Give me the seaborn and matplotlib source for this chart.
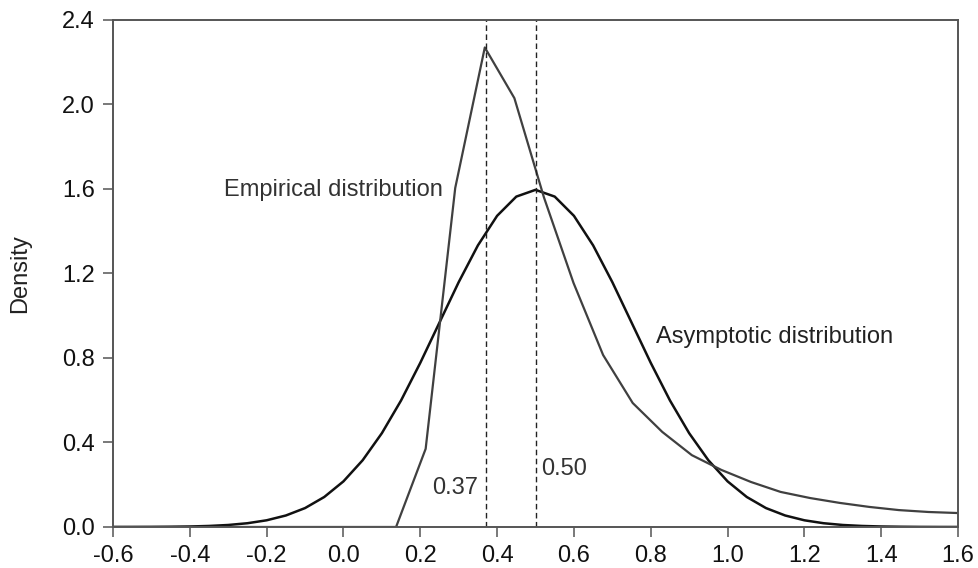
import numpy as np
import pandas as pd
import matplotlib
matplotlib.use("Agg")
import matplotlib.pyplot as plt
import seaborn as sns

# Empirical distribution
emp_x = [-0.60, 0.137, 0.214, 0.291, 0.368, 0.445, 0.522, 0.599, 0.676, 0.753, 0.830,
         0.907, 0.984, 1.061, 1.138, 1.215, 1.292, 1.369, 1.446, 1.523, 1.600]
emp_y = [0.0, 0.0, 0.37, 1.605, 2.27, 2.03, 1.56, 1.155, 0.814, 0.587, 0.45,
         0.34, 0.27, 0.213, 0.166, 0.137, 0.114, 0.095, 0.08, 0.071, 0.066]

# Asymptotic distribution
asy_x = [-0.60, -0.55, -0.50, -0.45, -0.40, -0.35, -0.30, -0.25, -0.20, -0.15, -0.10, -0.05,
         0.00, 0.05, 0.10, 0.15, 0.20, 0.25, 0.30, 0.35, 0.40, 0.45, 0.50,
         0.55, 0.60, 0.65, 0.70, 0.75, 0.80, 0.85, 0.90, 0.95, 1.00, 1.05,
         1.10, 1.15, 1.20, 1.25, 1.30, 1.35, 1.40, 1.45, 1.50, 1.55, 1.60]
asy_y = [0.0001, 0.0002, 0.0005, 0.0012, 0.0024, 0.0049, 0.0095, 0.0178, 0.0317, 0.0544, 0.0895, 0.142,
         0.216, 0.316, 0.444, 0.599, 0.777, 0.968, 1.159, 1.333, 1.473, 1.564, 1.596,
         1.564, 1.473, 1.333, 1.159, 0.968, 0.777, 0.599, 0.444, 0.316, 0.216, 0.142,
         0.0895, 0.0544, 0.0317, 0.0178, 0.0095, 0.0049, 0.0024, 0.0012, 0.0005, 0.0002, 0.0001]

markers_x = [0.37, 0.50]
marker_labels = ["0.37", "0.50"]

x_ticks = [-0.6, -0.4, -0.2, 0.0, 0.2, 0.4, 0.6, 0.8, 1.0, 1.2, 1.4, 1.6]
y_ticks = [0.0, 0.4, 0.8, 1.2, 1.6, 2.0, 2.4]

sns.set_theme(style="ticks")
plt.rcParams['font.family'] = ['Liberation Sans', 'DejaVu Sans']

FS = 17

fig = plt.figure(figsize=(9.79, 5.68), dpi=100)
ax = fig.add_axes([0.1154, 0.0722, 0.8632, 0.8926])

emp_df = pd.DataFrame({"x": emp_x, "y": emp_y})
asy_df = pd.DataFrame({"x": asy_x, "y": asy_y})

sns.lineplot(data=asy_df, x="x", y="y", ax=ax, color="#111111", linewidth=1.8, sort=False)
sns.lineplot(data=emp_df, x="x", y="y", ax=ax, color="#404040", linewidth=1.6, sort=False)

for mx in markers_x:
    ax.axvline(mx, color="#222222", linewidth=1.0, linestyle=(0, (4, 2.5)))

ax.set_xlim(-0.6, 1.6)
ax.set_ylim(0, 2.4)
ax.set_xticks(x_ticks)
ax.set_xticklabels([f"{t:.1f}" for t in x_ticks])
ax.set_yticks(y_ticks)
ax.set_yticklabels([f"{t:.1f}" for t in y_ticks])
ax.set_xlabel("")
ax.set_ylabel("Density", fontsize=FS, color="#222222")
ax.yaxis.set_label_coords(-0.097, 0.5)

for s in ax.spines.values():
    s.set_color("#555555")
    s.set_linewidth(1.4)
ax.tick_params(axis="both", direction="out", length=7, width=1.1, colors="#555555",
               labelsize=FS, labelcolor="#111111", pad=6)

ax.text(-0.027, 1.595, "Empirical distribution", fontsize=FS, color="#333333",
        ha="center", va="center")
ax.text(0.814, 0.90, "Asymptotic distribution", fontsize=FS, color="#222222",
        ha="left", va="center")
ax.text(0.23, 0.185, marker_labels[0], fontsize=FS, color="#333333", ha="left", va="center")
ax.text(0.514, 0.275, marker_labels[1], fontsize=FS, color="#333333", ha="left", va="center")

fig.savefig("out.png", dpi=100)
